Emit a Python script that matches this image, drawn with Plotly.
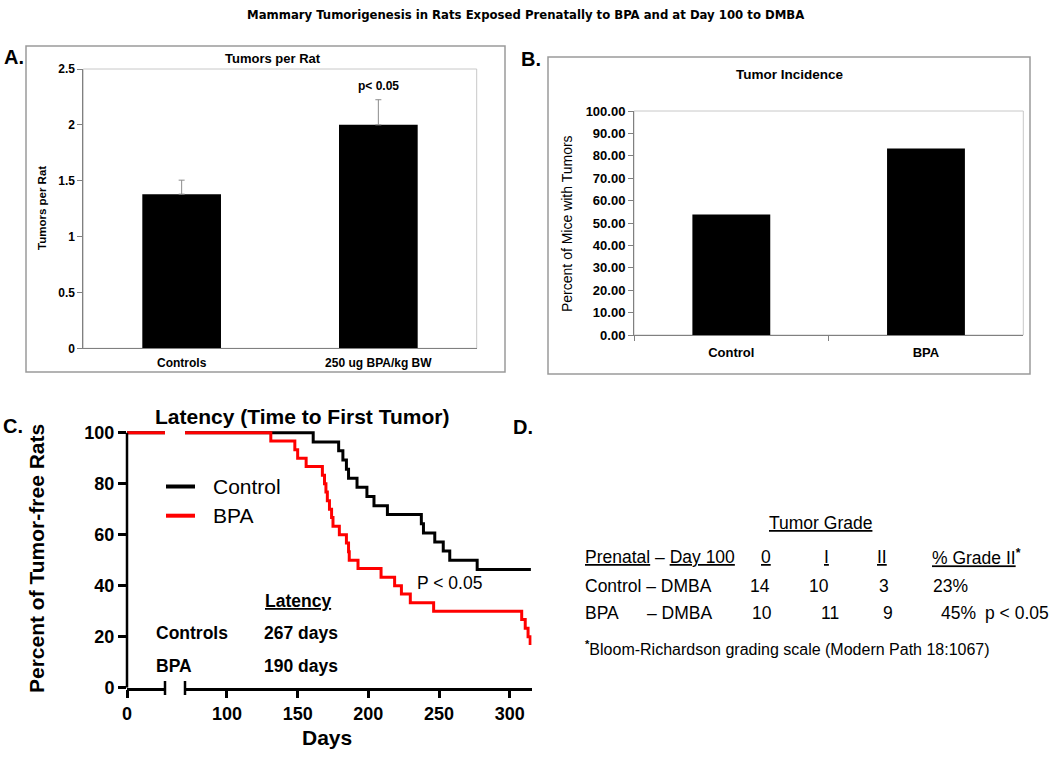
import plotly.graph_objects as go

W, H = 1050, 759


def X(px):
    return px / W


def Y(py):
    return 1 - py / H


FONT = "Liberation Sans, Arial, Helvetica, sans-serif"
NARROW = "Liberation Sans Narrow, Arial Narrow, DejaVu Sans Condensed, sans-serif"

# ---------------- data ----------------
# Panel A: tumors per rat
a_categories = ["Controls", "250 ug BPA/kg BW"]
a_tumors_per_rat = [1.38, 2.0]
a_error_upper = [0.125, 0.225]
a_tickvals = [0, 0.5, 1, 1.5, 2, 2.5]

# Panel B: tumor incidence (%)
b_categories = ["Control", "BPA"]
b_incidence = [53.8, 83.3]
b_tickvals = [0, 10, 20, 30, 40, 50, 60, 70, 80, 90, 100]

# Panel C: latency, percent tumor-free rats
ctrl_days = [0, 161, 179, 182, 184.5, 186, 192, 199, 204, 213.5, 237.5, 239, 247, 253, 257.6, 277, 315]
ctrl_pct = [100, 96.4, 92.9, 89.3, 85.7, 82.1, 78.6, 75.0, 71.4, 67.9, 64.3, 60.7, 57.1, 53.6, 50.0, 46.4, 46.4]
bpa_days = [0, 131, 148, 150, 156, 167.5, 169, 170, 171, 172.5, 174, 175, 179.5, 184.5, 186, 186.5,
            192.7, 209, 218.6, 223.4, 229.7, 246.2, 308.5, 311, 313, 314.5]
bpa_pct = [100, 96.7, 93.3, 90.0, 86.7, 83.3, 80.0, 76.7, 73.3, 70.0, 66.7, 63.3, 60.0, 56.7, 53.3, 50.0,
           46.7, 43.3, 40.0, 36.7, 33.3, 30.0, 26.7, 23.3, 20.0, 16.7]
c_xticks_seg1 = [0]
c_xticks_seg2 = [100, 150, 200, 250, 300]
c_yticks = [0, 20, 40, 60, 80, 100]

# Panel D: tumor grade table
d_header = ["<u>Prenatal</u> – <u>Day 100</u>", "<u>0</u>", "<u>I</u>", "<u>II</u>", "<u>% Grade II</u><b><sup>*</sup></b>"]
d_rows = [
    ["Control – DMBA", "14", "10", "3", "23%", ""],
    ["BPA      – DMBA", "10", "11", "9", "45%", "p < 0.05"],
]

fig = go.Figure()

# ---------------- Panel A ----------------
fig.add_trace(go.Bar(
    x=a_categories, y=a_tumors_per_rat, width=0.4,
    marker=dict(color="black", line=dict(width=0)),
    error_y=dict(type="data", symmetric=False, array=a_error_upper, arrayminus=[0, 0],
                 color="#8c8c8c", thickness=1, width=3),
    xaxis="x", yaxis="y", showlegend=False,
))

# ---------------- Panel B ----------------
fig.add_trace(go.Bar(
    x=b_categories, y=b_incidence, width=0.4,
    marker=dict(color="black", line=dict(width=0)),
    xaxis="x2", yaxis="y2", showlegend=False,
))

# ---------------- Panel C ----------------
for xa in ["x3", "x4"]:
    fig.add_trace(go.Scatter(x=ctrl_days, y=ctrl_pct, mode="lines", line=dict(color="black", width=3, shape="hv"),
                             xaxis=xa, yaxis="y3", showlegend=False, name="Control"))
for xa in ["x3", "x4"]:
    fig.add_trace(go.Scatter(x=bpa_days, y=bpa_pct, mode="lines", line=dict(color="#ff0000", width=3, shape="hv"),
                             xaxis=xa, yaxis="y3", showlegend=False, name="BPA"))

c_px_per_day = 1.4135
c_y_top = 432.7 - 1.2 * 2.55

fig.update_layout(
    template="none",
    width=W, height=H,
    margin=dict(l=0, r=0, t=0, b=0, pad=0, autoexpand=False),
    paper_bgcolor="white", plot_bgcolor="white",
    showlegend=False,
    font=dict(family=FONT, color="black"),
    # Panel A axes
    xaxis=dict(domain=[X(83.3), X(476.7)], anchor="y", type="category", range=[-0.5, 1.5], automargin=False,
               showline=True, linecolor="#808080", linewidth=1, ticks="", showgrid=False,
               tickfont=dict(size=12, weight="bold", family=FONT), ticklabelstandoff=3),
    yaxis=dict(domain=[Y(348.3), Y(69)], anchor="x", range=[0, 2.5], tickvals=a_tickvals, automargin=False,
               showline=True, linecolor="#808080", linewidth=1, ticks="outside", ticklen=5,
               tickcolor="#808080", showgrid=False, zeroline=False,
               tickfont=dict(size=12, weight="bold", family=FONT)),
    # Panel B axes
    xaxis2=dict(domain=[X(634), X(1023.3)], anchor="y2", type="category", range=[-0.5, 1.5], automargin=False,
                showline=True, linecolor="#808080", linewidth=1, ticks="outside", ticklen=5,
                tickcolor="#808080", tickson="boundaries", showgrid=False,
                tickfont=dict(size=13, weight="bold", family=FONT), ticklabelstandoff=5),
    yaxis2=dict(domain=[Y(335), Y(111)], anchor="x2", range=[0, 100], tickvals=b_tickvals, automargin=False,
                tickformat=".2f", showline=True, linecolor="#808080", linewidth=1, ticks="outside",
                ticklen=5, tickcolor="#808080", showgrid=False, zeroline=False,
                tickfont=dict(size=13, weight="bold", family=FONT)),
    # Panel C axes (broken x axis: two segments)
    xaxis3=dict(domain=[X(127), X(165)], anchor="y3", range=[0, 38 / c_px_per_day], tickvals=c_xticks_seg1,
                automargin=False,
                showline=True, linecolor="black", linewidth=2.5, ticks="outside", ticklen=8, tickwidth=2.5,
                tickcolor="black", showgrid=False, zeroline=False,
                tickfont=dict(size=18, weight="bold", family=FONT)),
    xaxis4=dict(domain=[X(185), X(185 + (315.5 - 70.3) * c_px_per_day)], anchor="y3", range=[70.3, 315.5],
                tickvals=c_xticks_seg2, automargin=False, showline=True, linecolor="black", linewidth=2.5,
                ticks="outside", ticklen=8, tickwidth=2.5, tickcolor="black", showgrid=False, zeroline=False,
                tickfont=dict(size=18, weight="bold", family=FONT)),
    yaxis3=dict(domain=[Y(687.7), Y(c_y_top)], anchor="x3", range=[0, 101.2], tickvals=c_yticks,
                automargin=False,
                showline=False, ticks="outside", ticklen=8, tickwidth=2.5, tickcolor="black",
                showgrid=False, zeroline=False, tickfont=dict(size=18, weight="bold", family=FONT)),
)

shapes = []
# Panel outer boxes
shapes.append(dict(type="rect", xref="paper", yref="paper", x0=X(26), x1=X(505), y0=Y(372), y1=Y(46),
                   line=dict(color="#9a9a9a", width=1.5), layer="below"))
shapes.append(dict(type="rect", xref="paper", yref="paper", x0=X(548), x1=X(1030), y0=Y(374), y1=Y(57),
                   line=dict(color="#9a9a9a", width=1.5), layer="below"))
# Plot-area borders (light gray)
shapes.append(dict(type="rect", xref="paper", yref="paper", x0=X(83.3), x1=X(476.7), y0=Y(348.3), y1=Y(69),
                   line=dict(color="#c8c8c8", width=1), layer="below"))
shapes.append(dict(type="rect", xref="paper", yref="paper", x0=X(634), x1=X(1023.3), y0=Y(335), y1=Y(111),
                   line=dict(color="#c8c8c8", width=1), layer="below"))
# Panel C y-axis line (0 to 100)
shapes.append(dict(type="line", xref="paper", yref="y3", x0=X(127), x1=X(127), y0=0, y1=100,
                   line=dict(color="black", width=2.5)))
# Axis-break end marks
for bx in [165, 185]:
    shapes.append(dict(type="line", xref="paper", yref="paper", x0=X(bx), x1=X(bx), y0=Y(681), y1=Y(695),
                       line=dict(color="black", width=2.5)))
# Legend keys in panel C
shapes.append(dict(type="line", xref="paper", yref="paper", x0=X(166), x1=X(195), y0=Y(486.5), y1=Y(486.5),
                   line=dict(color="black", width=4)))
shapes.append(dict(type="line", xref="paper", yref="paper", x0=X(166), x1=X(195), y0=Y(515.7), y1=Y(515.7),
                   line=dict(color="#ff0000", width=4)))
fig.update_layout(shapes=shapes)

ann = []


def text(px, py, s, size, bold=False, anchor="center", family=FONT, angle=0, color="black"):
    ann.append(dict(xref="paper", yref="paper", x=X(px), y=Y(py), text=("<b>%s</b>" % s) if bold else s,
                    showarrow=False, xanchor=anchor, yanchor="middle", textangle=angle,
                    font=dict(size=size, family=family, color=color)))


# Main title
text(525, 14, "Mammary Tumorigenesis in Rats Exposed Prenatally to BPA and at Day 100 to DMBA", 13, True,
     family=NARROW)
# Panel letters
text(2, 57, "A.", 20, True, "left")
text(519, 59, "B.", 20, True, "left")
text(1, 426, "C.", 20, True, "left")
text(511, 427, "D.", 20, True, "left")

# Panel A texts
text(272.7, 58.3, "Tumors per Rat", 13, True)
text(42.7, 208.3, "Tumors per Rat", 11.5, True, angle=-90)
ann.append(dict(xref="x", yref="y", x=a_categories[1], y=2.35, text="<b>p< 0.05</b>", showarrow=False,
                xanchor="center", yanchor="middle", font=dict(size=12, family=FONT)))

# Panel B texts
text(790, 75, "Tumor Incidence", 13.5, True)
text(567.7, 223.3, "Percent of Mice with Tumors", 14, False, angle=-90)

# Panel C texts
text(301.7, 416, "Latency (Time to First Tumor)", 21, True)
text(36, 559, "Percent of Tumor-free Rats", 21, True, angle=-90)
text(327, 737, "Days", 21, True)
text(211, 486, "Control", 21, False, "left")
text(211, 515.5, "BPA", 21, False, "left")
text(449, 583, "P < 0.05", 17.5, False)
text(333, 601, "<u>Latency</u>", 17.5, True, "right")
text(154, 633, "Controls", 17.5, True, "left")
text(262, 633, "267 days", 17.5, True, "left")
text(154, 666, "BPA", 17.5, True, "left")
text(262, 666, "190 days", 17.5, True, "left")

# Panel D table
text(820, 523, "<u>Tumor Grade</u>", 17.5)
hdr_y = 557
text(583, hdr_y, d_header[0], 17.5, False, "left")
text(765.7, hdr_y, d_header[1], 17.5)
text(826.7, hdr_y, d_header[2], 17.5)
text(882, hdr_y, d_header[3], 17.5)
text(930, hdr_y, d_header[4], 17.5, False, "left")

row_y = [586, 613]
num_x = [[759.5, 818.5, 884], [762, 830, 887.5]]
pct_x = [931, 939]
for r, row in enumerate(d_rows):
    text(583, row_y[r], row[0], 17.5, False, "left")
    for c in range(3):
        text(num_x[r][c], row_y[r], row[c + 1], 17.5)
    text(pct_x[r], row_y[r], row[4], 17.5, False, "left")
    if row[5]:
        text(983, row_y[r], row[5], 17.5, False, "left")

text(583, 648, "<b><sup>*</sup></b>Bloom-Richardson grading scale (Modern Path 18:1067)", 16, False, "left")

fig.update_layout(annotations=ann)

# Remove the default 8px page margin so the figure fills the 1050x759 window exactly
fig.write_html("out.html", config={"displayModeBar": False},
               post_script="document.body.style.margin='0';document.body.style.overflow='hidden';")
